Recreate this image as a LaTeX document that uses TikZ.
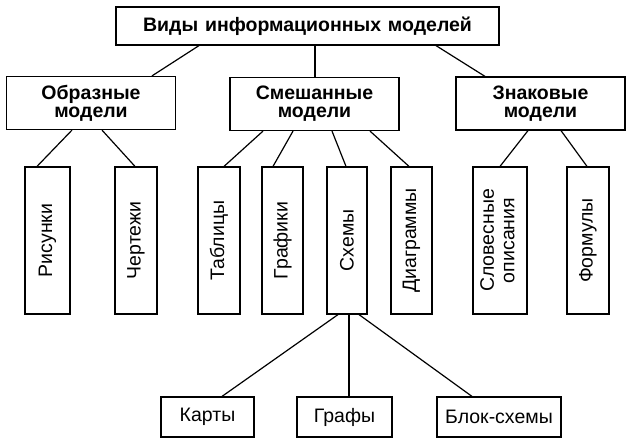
\documentclass[tikz,border=0pt]{standalone}
\usepackage{fontspec}
\setmainfont{Liberation Sans}
\usepackage{graphicx}

\begin{document}
\begin{tikzpicture}[x=1pt, y=-1pt, line width=1.2pt]
    \useasboundingbox (0, 0) rectangle (642, 443);

    % Define styles for boxes and lines
    \tikzstyle{kind} = [rectangle, draw=black, inner sep=0pt, text centered, font=\fontsize{19.5}{18}\selectfont\bfseries]
    \tikzstyle{group} = [kind, align=center, minimum width=169pt, minimum height=53pt]
    \tikzstyle{item} = [rectangle, draw=black, inner sep=0pt, minimum width=42pt, minimum height=147pt, font=\fontsize{19.5}{20.5}\selectfont]
    \tikzstyle{leaf} = [rectangle, draw=black, inner sep=0pt, minimum height=40pt, font=\fontsize{19.5}{20}\selectfont]
    \tikzstyle{line} = [-]

    % boxes
    \node (kinds) [kind, minimum width=383pt, minimum height=38pt] at (307.5, 26) {Виды\hspace{0.35em}информационных\hspace{0.35em}моделей};
    \node (obraz) [group] at (91, 103) {Образные\\модели};
    \node (mixed) [group] at (314.5, 104) {Смешанные\\модели};
    \node (sign) [group] at (540.5, 103.5) {Знаковые\\модели};

    \node (pictures) [item, minimum width=45pt] at (47.5, 240.5) {\rotatebox{90}{Рисунки}};
    \node (drawings) [item] at (136, 240.5) {\rotatebox{90}{Чертежи}};
    \node (tables) [item] at (219, 240.5) {\rotatebox{90}{Таблицы}};
    \node (plots) [item, minimum width=41pt] at (282.5, 240.5) {\rotatebox{90}{Графики}};
    \node (schemes) [item, minimum width=40pt] at (347, 240.5) {\rotatebox{90}{Схемы}};
    \node (charts) [item, minimum width=41pt] at (411.5, 240.5) {\rotatebox{90}{Диаграммы}};
    \node (verbal) [item, minimum width=54pt] at (500, 240.5) {\rotatebox{90}{\begin{tabular}{@{}c@{}}Словесные\\описания\end{tabular}}};
    \node (formulas) [item] at (588, 240.5) {\rotatebox{90}{Формулы}};

    \node (maps) [leaf, minimum width=93pt] at (207.5, 417) {Карты};
    \node (graphs) [leaf, minimum width=95pt] at (344.5, 417) {Графы};
    \node (flowcharts) [leaf, minimum width=124pt] at (499, 417) {Блок-схемы};

    % Lines
    \draw [line] ([xshift=-108.5pt]kinds.south) -- ([xshift=61pt]obraz.north);
    \draw [line] ([xshift=7.5pt]kinds.south) -- ([xshift=0.5pt]mixed.north);
    \draw [line] ([xshift=128.5pt]kinds.south) -- ([xshift=-55.5pt]sign.north);

    \draw [line] ([xshift=-19pt]obraz.south) -- ([xshift=-10.5pt]pictures.north);
    \draw [line] ([xshift=11pt]obraz.south) -- ([xshift=-1pt]drawings.north);

    \draw [line] ([xshift=-51.5pt]mixed.south) -- ([xshift=5pt]tables.north);
    \draw [line] ([xshift=-21.5pt]mixed.south) -- ([xshift=-9.5pt]plots.north);
    \draw [line] ([xshift=17.5pt]mixed.south) -- ([xshift=-1pt]schemes.north);
    \draw [line] ([xshift=55.5pt]mixed.south) -- ([xshift=-2.5pt]charts.north);

    \draw [line] ([xshift=-12.5pt]sign.south) -- (verbal.north);
    \draw [line] ([xshift=20.5pt]sign.south) -- ([xshift=-1pt]formulas.north);

    \draw [line] ([xshift=-9pt]schemes.south) -- ([xshift=14.5pt]maps.north);
    \draw [line] ([xshift=2pt]schemes.south) -- ([xshift=4.5pt]graphs.north);
    \draw [line] ([xshift=12pt]schemes.south) -- ([xshift=-27pt]flowcharts.north);
\end{tikzpicture}
\end{document}
